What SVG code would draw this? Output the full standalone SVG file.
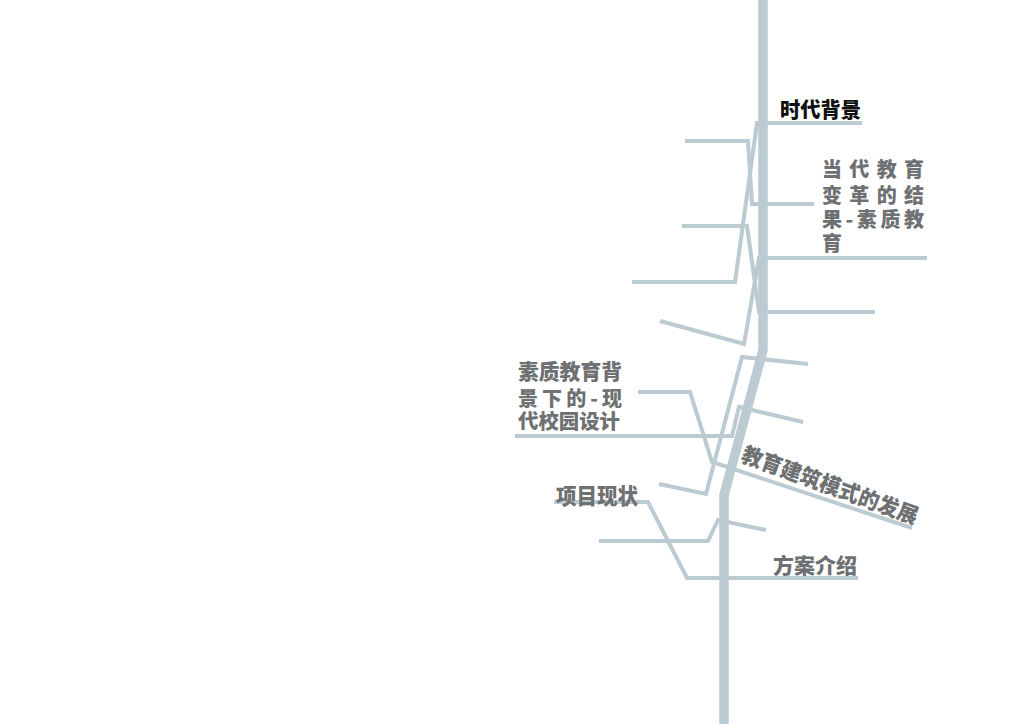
<svg xmlns="http://www.w3.org/2000/svg" width="1024" height="724" viewBox="0 0 1024 724">
<style>
.trunk{fill:none;stroke:#bccad1;stroke-width:9.5;stroke-linejoin:round}
.br{fill:none;stroke:#bccad1;stroke-width:4;stroke-linejoin:miter}
.t{font-family:"Noto Sans CJK SC","Noto Sans",sans-serif;font-weight:900;fill:#6e7072}
.k{fill:#111111}
</style>
<rect width="1024" height="724" fill="#ffffff"/>
<g id="connectors">
<path class="trunk" d="M763,0 L763,350 L724,495 L724,724"/>
<path class="br" d="M685,141 H748 L752,204 H814"/>
<path class="br" d="M862,123 H757 L735,282 H632"/>
<path class="br" d="M682,226 H747 L759,312 H875"/>
<path class="br" d="M660,321 L744,344 L759,258 H927"/>
<path class="br" d="M659,484 L706,494 L742,357 L808,364"/>
<path class="br" d="M515,436 H732 L739,407 L803,422"/>
<path class="br" d="M638,392 H690 L712,462 L912,528"/>
<path class="br" d="M554,502 H648 L687,578 H858"/>
<path class="br" d="M599,541 H708 L718,520 L766,530"/>
</g>
<g id="node-shidai">
<text class="t k" x="780" y="117" font-size="21" textLength="81" lengthAdjust="spacingAndGlyphs">时代背景</text>
</g>
<g id="node-dangdai">
<text class="t" x="822" y="176.5" font-size="20" textLength="102" lengthAdjust="spacing">当代教育</text>
<text class="t" x="822" y="202.5" font-size="20" textLength="102" lengthAdjust="spacing">变革的结</text>
<text class="t" x="822" y="226.5" font-size="20" textLength="102" lengthAdjust="spacing">果-素质教</text>
<text class="t" x="822" y="250.5" font-size="20">育</text>
</g>
<g id="node-suzhi">
<text class="t" x="518" y="378.5" font-size="21" textLength="104" lengthAdjust="spacingAndGlyphs">素质教育背</text>
<text class="t" x="518" y="405.5" font-size="20" textLength="104" lengthAdjust="spacing">景下的-现</text>
<text class="t" x="518" y="429" font-size="20" textLength="102" lengthAdjust="spacingAndGlyphs">代校园设计</text>
</g>
<g id="node-jiaoyu">
<text class="t" transform="translate(740,461) rotate(20)" x="0" y="0" font-size="22" textLength="186" lengthAdjust="spacingAndGlyphs">教育建筑模式的发展</text>
</g>
<g id="node-xiangmu">
<text class="t" x="556" y="503.5" font-size="22" textLength="82" lengthAdjust="spacingAndGlyphs">项目现状</text>
</g>
<g id="node-fangan">
<text class="t" x="773" y="572.5" font-size="21" textLength="84" lengthAdjust="spacingAndGlyphs">方案介绍</text>
</g>
</svg>
